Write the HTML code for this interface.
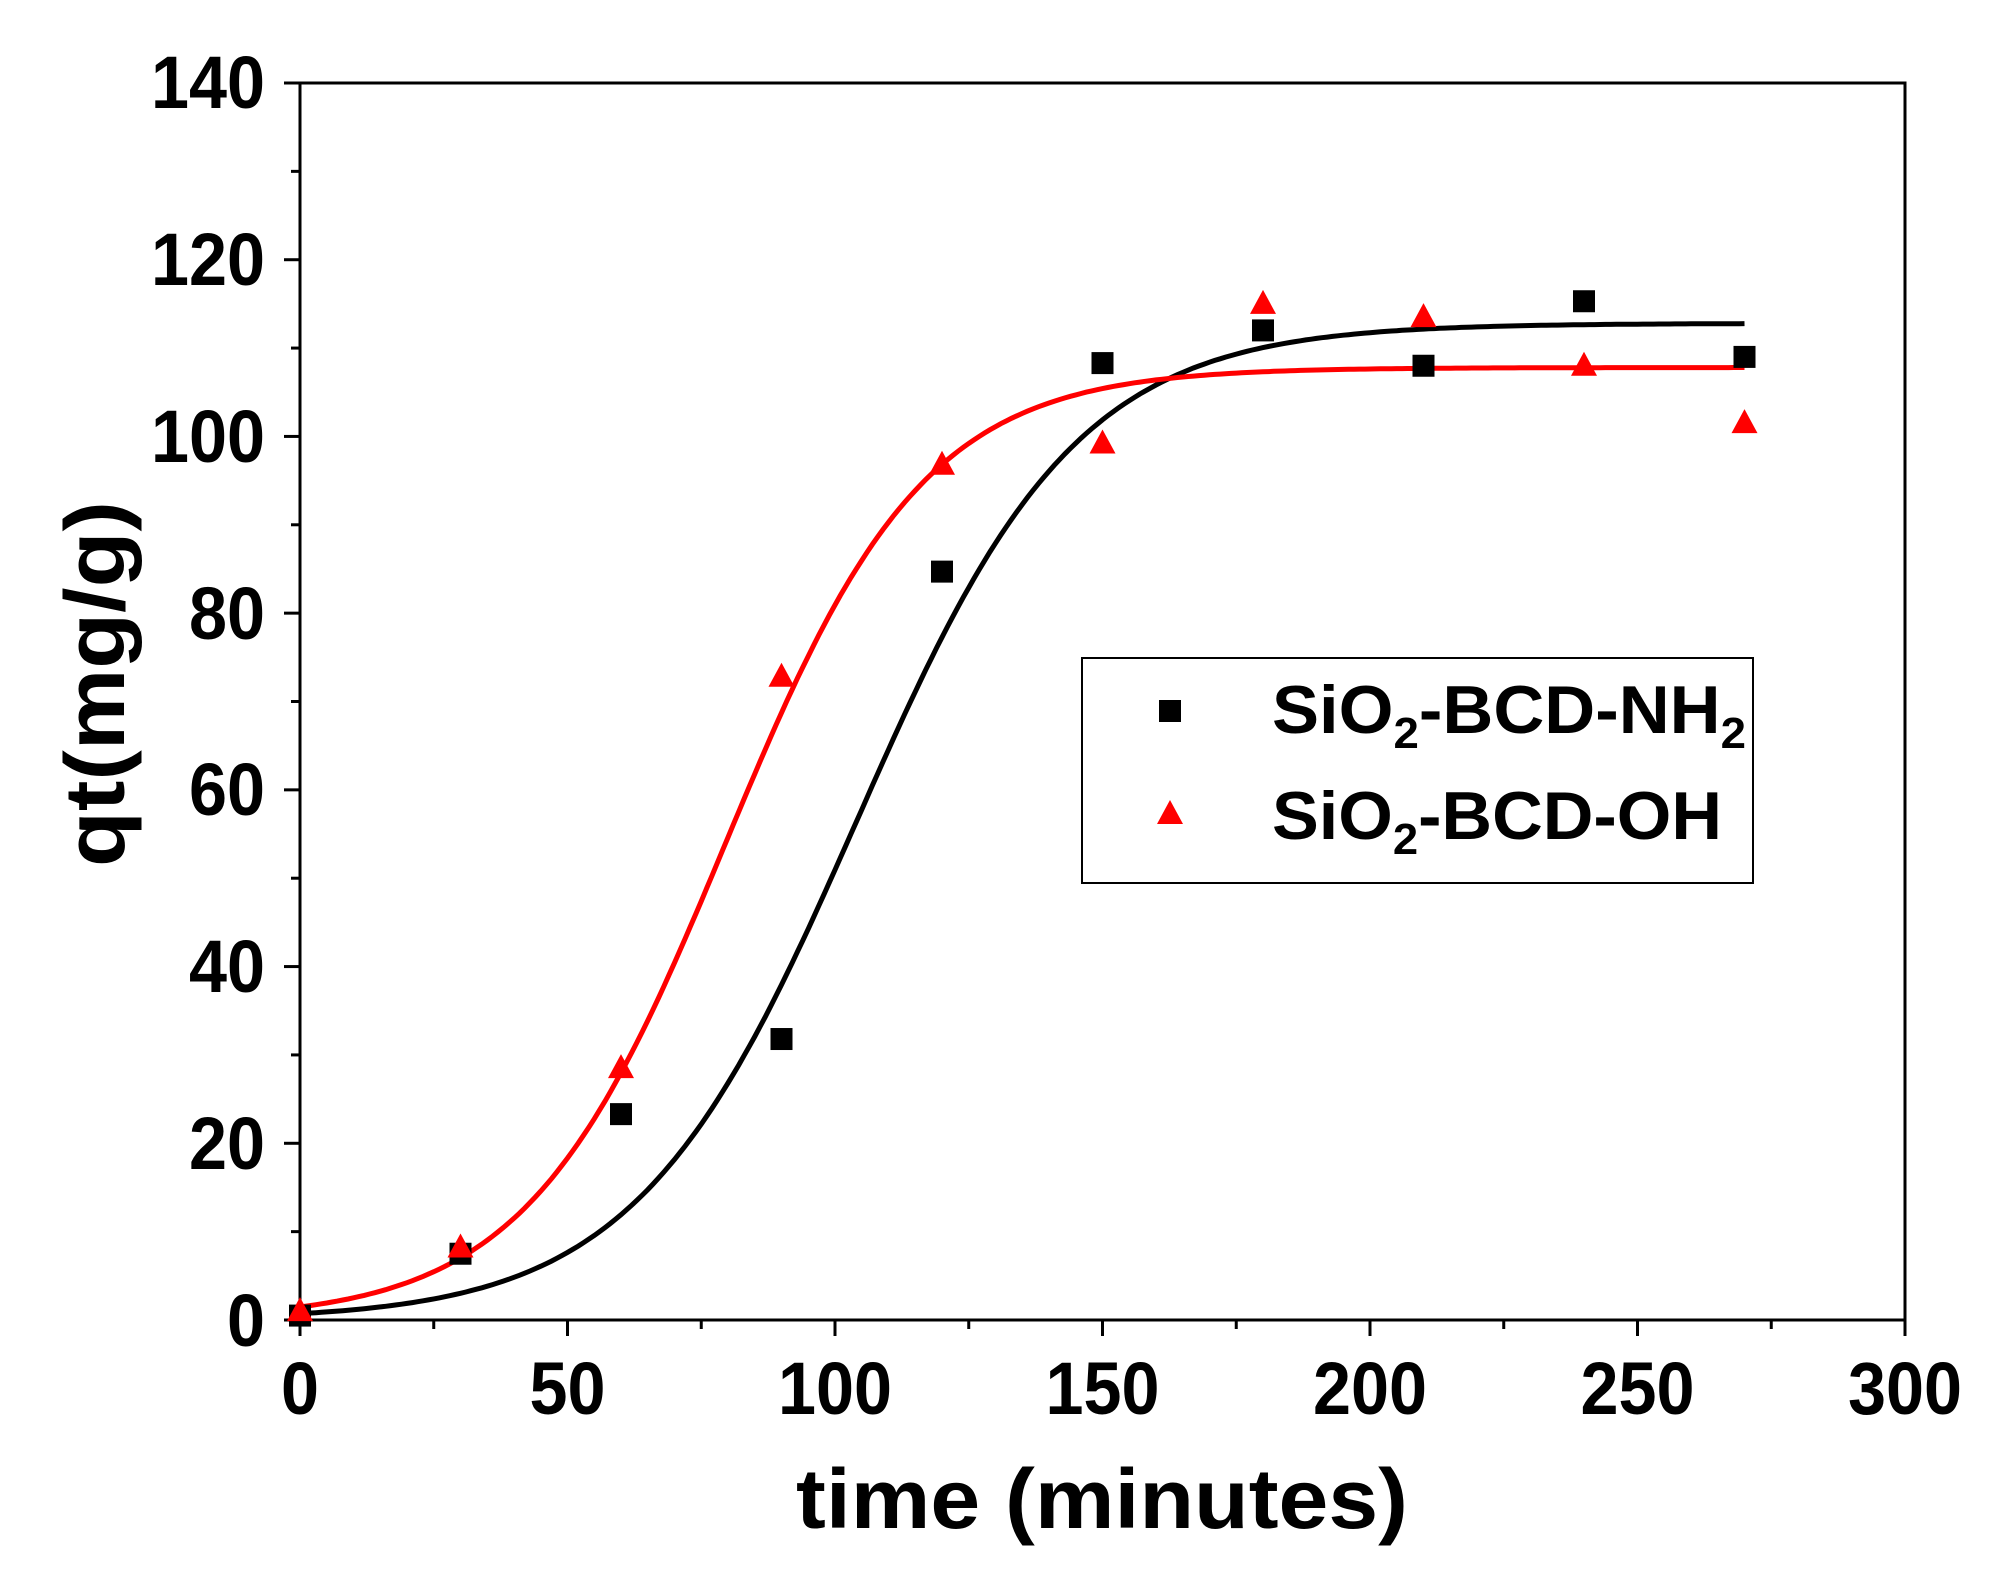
<!DOCTYPE html>
<html><head><meta charset="utf-8"><style>
html,body{margin:0;padding:0;background:#fff}
svg{display:block}
text{font-family:"Liberation Sans",sans-serif;font-weight:bold;fill:#000}
</style></head><body>
<svg id="s" width="1993" height="1577" xmlns="http://www.w3.org/2000/svg">
<rect width="1993" height="1577" fill="#fff"/>
<g id="ticks" stroke="#000" stroke-width="3"></g>
<g font-size="74" text-anchor="middle">
<text x="300" y="1414" textLength="38" lengthAdjust="spacingAndGlyphs">0</text>
<text x="567.5" y="1414" textLength="76" lengthAdjust="spacingAndGlyphs">50</text>
<text x="835" y="1414" textLength="114" lengthAdjust="spacingAndGlyphs">100</text>
<text x="1102.5" y="1414" textLength="114" lengthAdjust="spacingAndGlyphs">150</text>
<text x="1370" y="1414" textLength="114" lengthAdjust="spacingAndGlyphs">200</text>
<text x="1637.5" y="1414" textLength="114" lengthAdjust="spacingAndGlyphs">250</text>
<text x="1905" y="1414" textLength="114" lengthAdjust="spacingAndGlyphs">300</text>
</g>
<g font-size="74" text-anchor="end">
<text x="265" y="1346" textLength="38" lengthAdjust="spacingAndGlyphs">0</text>
<text x="265" y="1169" textLength="76" lengthAdjust="spacingAndGlyphs">20</text>
<text x="265" y="992" textLength="76" lengthAdjust="spacingAndGlyphs">40</text>
<text x="265" y="815" textLength="76" lengthAdjust="spacingAndGlyphs">60</text>
<text x="265" y="639" textLength="76" lengthAdjust="spacingAndGlyphs">80</text>
<text x="265" y="462" textLength="114" lengthAdjust="spacingAndGlyphs">100</text>
<text x="265" y="285" textLength="114" lengthAdjust="spacingAndGlyphs">120</text>
<text x="265" y="108" textLength="114" lengthAdjust="spacingAndGlyphs">140</text>
</g>
<text x="1102" y="1528" font-size="84" text-anchor="middle" textLength="612" lengthAdjust="spacingAndGlyphs">time (minutes)</text>
<text transform="translate(124,684) rotate(-90)" font-size="84" text-anchor="middle" textLength="366" lengthAdjust="spacingAndGlyphs">qt(mg/g)</text>
<rect x="300" y="83" width="1605" height="1237" fill="none" stroke="#000" stroke-width="3"/>
<path id="cb" fill="none" stroke="#000" stroke-width="5"/>
<path id="cr" fill="none" stroke="#f00" stroke-width="5"/>
<g id="mk"></g>
<rect x="1082" y="658" width="671" height="225" fill="none" stroke="#000" stroke-width="2"/>
<rect x="1159" y="700" width="22" height="22" fill="#000"/>
<polygon points="1170,800 1183,824 1157,824" fill="#f00"/>
<text x="1272" y="733" font-size="68" textLength="474" lengthAdjust="spacingAndGlyphs">SiO<tspan font-size="44" dy="15">2</tspan><tspan dy="-15">-BCD-NH</tspan><tspan font-size="44" dy="15">2</tspan></text>
<text x="1272" y="839" font-size="68" textLength="450" lengthAdjust="spacingAndGlyphs">SiO<tspan font-size="44" dy="15">2</tspan><tspan dy="-15">-BCD-OH</tspan></text>
</svg>
<script>
var X=function(v){return 300+v*5.35},Y=function(v){return 1320-v*8.8357};
var t=document.getElementById('ticks'),h='';
for(var i=0;i<=300;i+=25){var L=i%50?9:16;h+='<line x1="'+X(i)+'" y1="1320" x2="'+X(i)+'" y2="'+(1320+L)+'"/>';}
for(var j=0;j<=140;j+=10){var L=j%20?9:16;h+='<line x1="300" y1="'+Y(j)+'" x2="'+(300-L)+'" y2="'+Y(j)+'"/>';}
t.innerHTML=h;
function path(A,x0,w){var d='';for(var x=0;x<=270;x+=1){var y=A/(1+Math.exp(-(x-x0)/w));d+=(x?'L':'M')+X(x).toFixed(1)+' '+Y(y).toFixed(1);}return d;}
document.getElementById('cb').setAttribute('d',path(112.8,104,20.6));
document.getElementById('cr').setAttribute('d',path(107.8,79.5,18.6));
var nh=[[0,0.5],[30,7.5],[60,23.3],[90,31.8],[120,84.7],[150,108.3],[180,112],[210,108],[240,115.3],[270,109]];
var oh=[[0,1],[30,8.2],[60,28.5],[90,72.8],[120,96.8],[150,99.2],[180,115],[210,113.5],[240,108],[270,101.5]];
var m='';
nh.forEach(function(p){m+='<rect x="'+(X(p[0])-11)+'" y="'+(Y(p[1])-11)+'" width="22" height="22" fill="#000"/>';});
oh.forEach(function(p){var x=X(p[0]),y=Y(p[1]);m+='<polygon points="'+x+','+(y-14)+' '+(x+13)+','+(y+10)+' '+(x-13)+','+(y+10)+'" fill="#f00"/>';});
document.getElementById('mk').innerHTML=m;
</script>
</body></html>
